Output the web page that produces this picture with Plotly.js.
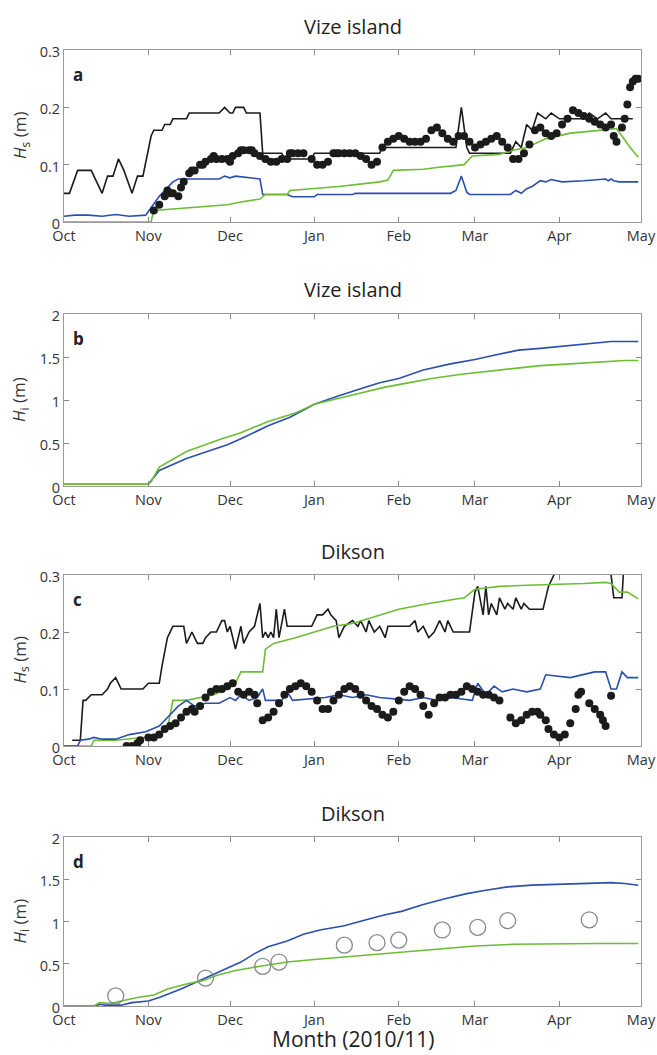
<!DOCTYPE html>
<html>
<head>
<meta charset="utf-8">
<script src="https://cdn.plot.ly/plotly-3.0.1.min.js"></script>
<style>html,body{margin:0;padding:0;background:#fff;}#chart{width:657px;height:1055px;}</style>
</head>
<body>
<div id="chart"></div>
<script>
// ---------- data (dates as MM-DD; Oct-Dec = 2010, Jan-May = 2011) ----------
const monthTicks = ['10-01','11-01','12-01','01-01','02-01','03-01','04-01','05-01'];
const monthLabels = ['Oct','Nov','Dec','Jan','Feb','Mar','Apr','May'];

// Panel a: Vize island, snow depth
const aBlackD = ['10-01','10-03','10-06','10-11','10-15','10-17','10-19','10-21','10-23','10-26','10-28','10-30','11-02','11-03','11-06','11-07','11-09','11-10','11-15','11-16','11-27','11-29','12-01','12-02','12-03','12-06','12-07','12-12','12-13','12-20','12-21','12-31','01-01','01-25','01-26','02-20','02-22','02-24','02-26','02-27','03-14','03-16','03-18','03-20','03-22','03-24','03-27','03-29','04-01','04-10','04-12','04-15','04-18','04-20','04-28'];
const aBlackV = [0.05,0.05,0.09,0.09,0.05,0.08,0.08,0.11,0.09,0.05,0.08,0.08,0.15,0.16,0.16,0.17,0.17,0.18,0.18,0.19,0.19,0.20,0.19,0.19,0.20,0.20,0.19,0.19,0.12,0.12,0.11,0.11,0.12,0.12,0.13,0.13,0.13,0.20,0.13,0.12,0.12,0.14,0.13,0.17,0.16,0.19,0.18,0.19,0.18,0.18,0.19,0.18,0.19,0.18,0.18];
const aBlueD = ['10-01','10-05','10-10','10-15','10-20','10-25','10-31','11-05','11-10','11-12','11-27','11-29','12-01','12-03','12-12','12-13','12-22','12-24','01-01','01-02','01-15','01-16','02-20','02-22','02-24','02-26','02-27','03-14','03-16','03-18','03-20','03-22','03-25','03-27','03-29','04-02','04-10','04-18','04-19','04-20','04-21','04-23','04-30'];
const aBlueV = [0.010,0.012,0.012,0.010,0.013,0.010,0.012,0.045,0.070,0.075,0.075,0.080,0.077,0.080,0.075,0.048,0.048,0.044,0.044,0.048,0.048,0.050,0.050,0.055,0.080,0.052,0.048,0.048,0.055,0.050,0.058,0.062,0.072,0.070,0.074,0.070,0.072,0.075,0.072,0.075,0.072,0.070,0.070];
const aGreenD = ['10-01','11-02','11-03','11-15','11-30','12-05','12-12','12-14','12-22','12-23','01-01','01-10','01-25','01-28','01-30','02-10','02-15','02-25','02-28','03-10','03-15','03-20','03-27','04-01','04-05','04-12','04-17','04-22','04-24','04-27','04-30'];
const aGreenV = [0,0,0.020,0.025,0.030,0.035,0.040,0.048,0.048,0.055,0.058,0.062,0.070,0.073,0.090,0.092,0.095,0.100,0.115,0.118,0.125,0.130,0.145,0.150,0.155,0.158,0.160,0.163,0.150,0.130,0.113];
const aObsD = ['11-03','11-05','11-07','11-08','11-09','11-10','11-12','11-13','11-14','11-16','11-17','11-18','11-20','11-21','11-22','11-24','11-25','11-26','11-28','11-30','12-01','12-02','12-04','12-05','12-06','12-08','12-09','12-10','12-12','12-14','12-16','12-18','12-20','12-22','12-23','12-24','12-26','12-28','12-31','01-02','01-04','01-06','01-08','01-09','01-10','01-12','01-14','01-16','01-18','01-20','01-22','01-24','01-26','01-28','01-30','02-01','02-03','02-05','02-07','02-09','02-11','02-13','02-15','02-17','02-19','02-21','02-23','02-25','02-27','03-01','03-03','03-05','03-07','03-09','03-11','03-13','03-15','03-17','03-19','03-21','03-23','03-25','03-27','03-29','03-31','04-02','04-04','04-06','04-08','04-10','04-12','04-14','04-16','04-18','04-20','04-21','04-22','04-24','04-25','04-26','04-27','04-28','04-29','04-30'];
const aObsV = [0.020,0.030,0.045,0.055,0.050,0.050,0.045,0.060,0.070,0.085,0.090,0.090,0.100,0.100,0.105,0.110,0.115,0.110,0.110,0.110,0.105,0.115,0.120,0.125,0.125,0.125,0.125,0.120,0.115,0.110,0.105,0.105,0.110,0.110,0.120,0.120,0.120,0.120,0.110,0.100,0.100,0.105,0.120,0.120,0.120,0.120,0.120,0.120,0.115,0.110,0.100,0.105,0.130,0.140,0.145,0.150,0.145,0.140,0.140,0.140,0.145,0.160,0.165,0.155,0.145,0.140,0.150,0.150,0.140,0.130,0.135,0.140,0.145,0.150,0.140,0.130,0.110,0.110,0.120,0.135,0.160,0.165,0.155,0.150,0.155,0.170,0.180,0.195,0.190,0.185,0.180,0.175,0.170,0.165,0.170,0.150,0.140,0.165,0.180,0.205,0.235,0.245,0.250,0.250];

// Panel b: Vize island, ice thickness
const bBlueD = ['10-01','11-01','11-05','11-15','11-30','12-05','12-15','12-23','01-01','01-10','01-20','01-25','02-01','02-10','02-20','03-01','03-08','03-17','03-25','04-01','04-10','04-20','04-30'];
const bBlueV = [0.02,0.02,0.18,0.32,0.48,0.55,0.70,0.80,0.95,1.05,1.15,1.20,1.25,1.35,1.42,1.47,1.52,1.58,1.60,1.62,1.65,1.68,1.68];
const bGreenD = ['10-01','11-01','11-02','11-05','11-15','11-28','12-05','12-15','12-25','01-01','01-10','01-20','01-27','02-03','02-13','02-24','03-05','03-15','03-25','04-05','04-15','04-25','04-30'];
const bGreenV = [0.02,0.02,0.05,0.22,0.40,0.55,0.62,0.75,0.85,0.95,1.02,1.10,1.15,1.19,1.25,1.30,1.33,1.37,1.40,1.42,1.44,1.46,1.46];

// Panel c: Dikson, snow depth
const cBlackD = ['10-04','10-07','10-08','10-09','10-11','10-15','10-17','10-18','10-20','10-21','10-22','10-30','11-01','11-05','11-06','11-08','11-10','11-14','11-15','11-17','11-19','11-21','11-22','11-24','11-26','11-28','11-29','11-30','12-01','12-03','12-05','12-06','12-08','12-10','12-12','12-13','12-14','12-15','12-16','12-17','12-18','12-19','12-21','12-22','12-31','01-02','01-04','01-06','01-07','01-09','01-10','01-12','01-15','01-17','01-18','01-20','01-21','01-23','01-25','01-27','01-28','02-05','02-07','02-08','02-10','02-12','02-14','02-16','02-18','02-19','02-21','02-27','03-01','03-02','03-04','03-05','03-06','03-07','03-09','03-10','03-12','03-13','03-15','03-16','03-18','03-19','03-21','03-26','03-28','03-30','04-02','04-19','04-21','04-24','04-25'];
const cBlackV = [0.01,0.01,0.08,0.08,0.09,0.09,0.10,0.11,0.12,0.11,0.10,0.10,0.11,0.11,0.14,0.19,0.21,0.21,0.18,0.20,0.18,0.18,0.19,0.20,0.20,0.22,0.22,0.20,0.21,0.17,0.21,0.18,0.20,0.21,0.25,0.19,0.20,0.19,0.20,0.19,0.24,0.19,0.24,0.21,0.21,0.23,0.23,0.24,0.23,0.22,0.19,0.21,0.22,0.21,0.22,0.20,0.22,0.20,0.21,0.19,0.21,0.21,0.22,0.20,0.21,0.19,0.20,0.22,0.20,0.22,0.20,0.20,0.27,0.28,0.23,0.28,0.23,0.25,0.23,0.26,0.24,0.25,0.24,0.26,0.24,0.25,0.24,0.24,0.28,0.30,0.34,0.34,0.26,0.26,0.34];
const cBlueD = ['10-01','10-06','10-07','10-10','10-12','10-15','10-20','10-25','10-31','11-05','11-08','11-12','11-15','11-18','11-22','11-27','12-01','12-03','12-05','12-08','12-11','12-13','12-14','12-20','12-22','12-24','01-05','01-10','01-15','01-20','01-25','02-05','02-10','02-15','02-20','02-28','03-02','03-05','03-08','03-11','03-15','03-20','03-25','03-27','04-05','04-10','04-14','04-18','04-20','04-22','04-24','04-26','04-30'];
const cBlueV = [0,0,0.010,0.012,0.015,0.012,0.012,0.020,0.025,0.035,0.050,0.070,0.080,0.070,0.075,0.075,0.085,0.080,0.090,0.080,0.085,0.100,0.080,0.080,0.095,0.080,0.085,0.090,0.085,0.090,0.085,0.080,0.085,0.080,0.085,0.080,0.110,0.090,0.105,0.095,0.100,0.095,0.100,0.125,0.120,0.125,0.130,0.130,0.100,0.100,0.130,0.120,0.120];
const cGreenD = ['10-01','10-11','10-12','10-20','10-30','11-05','11-08','11-10','11-15','11-20','11-25','11-30','12-03','12-05','12-13','12-14','12-17','12-25','01-01','01-08','01-15','01-22','02-01','02-12','02-25','03-01','03-10','03-20','04-01','04-10','04-18','04-20','04-23','04-26','04-30'];
const cGreenV = [0,0,0.010,0.010,0.015,0.020,0.030,0.080,0.080,0.085,0.090,0.100,0.110,0.130,0.130,0.170,0.180,0.190,0.200,0.210,0.215,0.225,0.240,0.250,0.260,0.275,0.280,0.282,0.283,0.285,0.287,0.285,0.270,0.270,0.258];
const cObsD = ['10-24','10-26','10-28','10-29','11-01','11-03','11-05','11-07','11-09','11-11','11-13','11-15','11-17','11-18','11-20','11-22','11-24','11-26','11-28','11-30','12-02','12-04','12-06','12-08','12-10','12-11','12-13','12-15','12-17','12-19','12-21','12-23','12-25','12-27','12-29','12-31','01-02','01-04','01-06','01-08','01-10','01-12','01-14','01-16','01-18','01-20','01-22','01-24','01-26','01-28','01-30','02-01','02-03','02-05','02-07','02-09','02-10','02-12','02-14','02-16','02-18','02-20','02-22','02-24','02-26','02-28','03-02','03-04','03-06','03-08','03-10','03-14','03-16','03-18','03-20','03-22','03-24','03-25','03-27','03-28','03-30','04-01','04-03','04-05','04-07','04-08','04-09','04-12','04-14','04-16','04-17','04-18','04-20'];
const cObsV = [0,0,0.005,0.010,0.015,0.015,0.020,0.030,0.035,0.040,0.050,0.060,0.065,0.060,0.070,0.085,0.095,0.100,0.100,0.105,0.110,0.095,0.090,0.095,0.090,0.075,0.045,0.050,0.060,0.075,0.090,0.100,0.105,0.110,0.105,0.095,0.080,0.065,0.065,0.080,0.090,0.100,0.105,0.100,0.090,0.080,0.070,0.065,0.055,0.050,0.060,0.080,0.095,0.105,0.100,0.090,0.070,0.055,0.075,0.085,0.085,0.090,0.090,0.095,0.105,0.100,0.095,0.090,0.090,0.085,0.080,0.050,0.040,0.045,0.055,0.060,0.060,0.055,0.045,0.030,0.020,0.015,0.020,0.040,0.065,0.090,0.095,0.075,0.065,0.055,0.045,0.035,0.088];

// Panel d: Dikson, ice thickness
const dBlueD = ['10-01','10-13','10-14','10-16','10-22','10-26','11-01','11-05','11-13','11-20','11-27','12-05','12-10','12-15','12-22','12-28','01-03','01-12','01-20','01-27','02-02','02-10','02-18','02-26','03-05','03-13','03-22','04-01','04-10','04-20','04-25','04-30'];
const dBlueV = [0,0,0.02,0.01,0.01,0.04,0.06,0.10,0.20,0.30,0.40,0.52,0.62,0.70,0.77,0.85,0.90,0.95,1.02,1.08,1.12,1.20,1.27,1.33,1.37,1.41,1.43,1.44,1.45,1.46,1.45,1.43];
const dGreenD = ['10-01','10-12','10-14','10-18','10-22','10-28','11-03','11-08','11-15','11-21','11-26','12-03','12-12','12-22','01-01','01-12','01-24','02-05','02-17','03-01','03-15','04-01','04-15','04-30'];
const dGreenV = [0,0,0.04,0.03,0.06,0.10,0.13,0.20,0.26,0.30,0.36,0.42,0.47,0.52,0.55,0.58,0.62,0.65,0.68,0.71,0.73,0.74,0.74,0.74];
const dObsD = ['10-20','11-22','12-13','12-19','01-12','01-24','02-01','02-17','03-02','03-13','04-12'];
const dObsV = [0.12,0.33,0.47,0.52,0.72,0.75,0.78,0.90,0.93,1.01,1.02];

const panelTitles = ['Vize island','Vize island','Dikson','Dikson'];
const panelLetters = ['a','b','c','d'];

// ---------- helpers ----------
function toDate(md){ const m = parseInt(md.slice(0,2),10); return (m >= 10 ? '2010-' : '2011-') + md; }
const dates = arr => arr.map(toDate);

const BLACK = '#1b1b1b', BLUE = '#2b4fae', GREEN = '#6cbd34';
function line(xd, yv, color, ax){ return {x: dates(xd), y: yv, type:'scatter', mode:'lines', line:{color:color, width:1.6}, xaxis:'x'+ax, yaxis:'y'+ax, hoverinfo:'skip', showlegend:false}; }
function dots(xd, yv, ax){ return {x: dates(xd), y: yv, type:'scatter', mode:'markers', marker:{color:BLACK, size:8}, xaxis:'x'+ax, yaxis:'y'+ax, cliponaxis:true, hoverinfo:'skip', showlegend:false}; }

const traces = [
  line(aBlackD,aBlackV,BLACK,''), line(aBlueD,aBlueV,BLUE,''), line(aGreenD,aGreenV,GREEN,''), dots(aObsD,aObsV,''),
  line(bBlueD,bBlueV,BLUE,'2'), line(bGreenD,bGreenV,GREEN,'2'),
  line(cBlackD,cBlackV,BLACK,'3'), line(cGreenD,cGreenV,GREEN,'3'), line(cBlueD,cBlueV,BLUE,'3'), dots(cObsD,cObsV,'3'),
  line(dBlueD,dBlueV,BLUE,'4'), line(dGreenD,dGreenV,GREEN,'4'),
  {x: dates(dObsD), y: dObsV, type:'scatter', mode:'markers', marker:{symbol:'circle-open', color:'#8a8a8a', size:16, line:{width:1.3}}, xaxis:'x4', yaxis:'y4', hoverinfo:'skip', showlegend:false}
];

// ---------- layout ----------
const W = 657, H = 1055;
const xDom = [64/W, 641/W];
const boxes = [[50,222],[314,486],[575,746],[837,1006]]; // top, bottom in px
const yDoms = boxes.map(b => [1 - b[1]/H, 1 - b[0]/H]);
const yRanges = [[0,0.3],[0,2],[0,0.3],[0,2]];
const yTicks = [[0,0.1,0.2,0.3],[0,0.5,1,1.5,2],[0,0.1,0.2,0.3],[0,0.5,1,1.5,2]];
const yTickText = [['0','0.1','0.2','0.3'],['0','0.5','1','1.5','2'],['0','0.1','0.2','0.3'],['0','0.5','1','1.5','2']];
const yLabels = ['<i>H</i><sub>s</sub> (m)','<i>H</i><sub>i</sub> (m)','<i>H</i><sub>s</sub> (m)','<i>H</i><sub>i</sub> (m)'];

const FONT = 'Open Sans, Noto Sans, sans-serif';
const layout = {
  width: W, height: H,
  margin: {l:0, r:0, t:0, b:0},
  paper_bgcolor:'#fff', plot_bgcolor:'#fff',
  font: {family: FONT, color:'#333', size:14},
  showlegend:false,
  annotations: []
};
for (let i = 0; i < 4; i++) {
  const s = i === 0 ? '' : String(i+1);
  layout['xaxis'+s] = {
    domain: xDom, anchor: 'y'+s, type:'date',
    range: [toDate('10-01'), toDate('05-01')],
    tickmode:'array', tickvals: dates(monthTicks), ticktext: monthLabels,
    ticks:'inside', ticklen:5, tickcolor:'#888', showline:true, linecolor:'#9a9a9a', linewidth:1,
    mirror:'ticks', showgrid:false, zeroline:false, fixedrange:true, ticklabelstandoff:1,
    tickfont:{size:14.5, color:'#333', family:FONT}
  };
  layout['yaxis'+s] = {
    domain: yDoms[i], anchor: 'x'+s, range: yRanges[i],
    tickmode:'array', tickvals: yTicks[i], ticktext: yTickText[i],
    ticks:'inside', ticklen:5, tickcolor:'#888', showline:true, linecolor:'#9a9a9a', linewidth:1,
    mirror:'ticks', showgrid:false, zeroline:false, fixedrange:true, ticklabelshift:2,
    tickfont:{size:14.5, color:'#333', family:FONT}
  };
  const top = boxes[i][0], bot = boxes[i][1];
  layout.annotations.push({text: panelTitles[i], xref:'paper', yref:'paper', x: (64+641)/2/W, y: 1 - (top-24)/H, xanchor:'center', yanchor:'middle', showarrow:false, font:{size:20, color:'#222', family:FONT}});
  layout.annotations.push({text: '<b>'+panelLetters[i]+'</b>', xref:'paper', yref:'paper', x: 71/W, y: 1 - (top+24)/H, xanchor:'left', yanchor:'middle', showarrow:false, font:{size:17, color:'#222', family:FONT}});
  layout.annotations.push({text: yLabels[i], xref:'paper', yref:'paper', x: 20/W, y: 1 - ((top+bot)/2)/H, xanchor:'center', yanchor:'middle', textangle:-90, showarrow:false, font:{size:17, color:'#333', family:FONT}});
}
layout.annotations.push({text:'Month (2010/11)', xref:'paper', yref:'paper', x:(64+641)/2/W, y:0, xanchor:'center', yanchor:'bottom', showarrow:false, font:{size:21, color:'#222', family:FONT}});

Plotly.newPlot('chart', traces, layout, {staticPlot:true, displayModeBar:false});
</script>
</body>
</html>
